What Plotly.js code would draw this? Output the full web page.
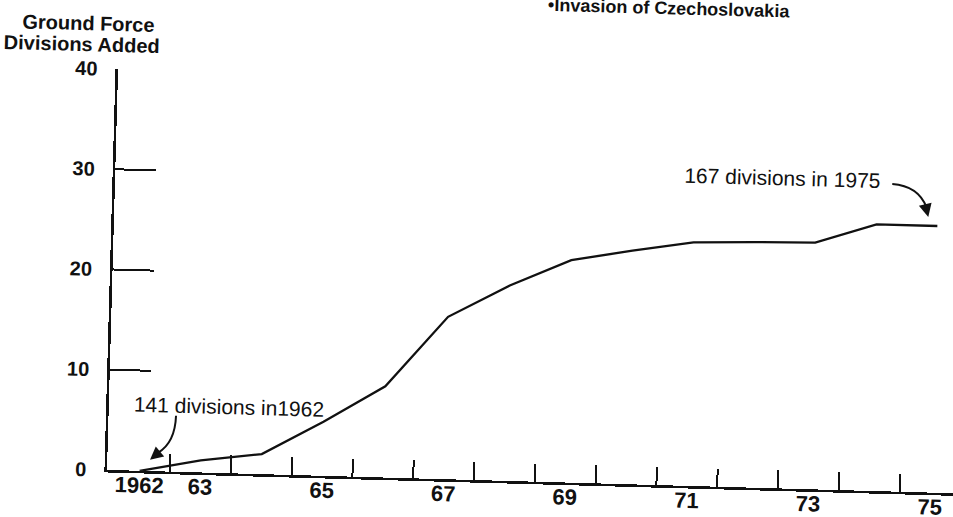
<!DOCTYPE html>
<html>
<head>
<meta charset="utf-8">
<script src="https://cdn.plot.ly/plotly-3.0.1.min.js"></script>
<style>
  html, body { margin: 0; padding: 0; background: #ffffff; overflow: hidden; width: 953px; height: 517px; position: relative; }
  #chart { position: absolute; left: -30px; top: -30px; width: 1040px; height: 577px;
           transform: rotate(1.58deg); transform-origin: 506.5px 288.5px; }
</style>
</head>
<body>
<div id="chart"></div>
<script>
// ---- data ----
const years = [1962, 1963, 1964, 1965, 1966, 1967, 1968, 1969, 1970, 1971, 1972, 1973, 1974, 1975];
const divisionsAdded = [0, 1.2, 2.0, 5.4, 9.1, 16.2, 19.5, 22.2, 23.3, 24.3, 24.5, 24.6, 26.6, 26.6];
const xTickVals = [1962, 1963, 1965, 1967, 1969, 1971, 1973, 1975];
const xTickText = ['1962', '63', '65', '67', '69', '71', '73', '75'];
const xMarkVals = [1962.5, 1963.5, 1964.5, 1965.5, 1966.5, 1967.5, 1968.5, 1969.5, 1970.5, 1971.5, 1972.5, 1973.5, 1974.5];
const yTickVals = [0, 10, 20, 30, 40];
const yTitleLines = ['Ground Force', 'Divisions Added'];
const eventNote = '\u2022Invasion of Czechoslovakia';
const startNote = '141 divisions in1962';
const endNote = '167 divisions in 1975';

// ---- geometry (picture pixels) ----
const OFF = 30;                       // extra room round the picture so rotated text is not clipped
const W = 1040, H = 577;
const ML = 113, MT = 79.1, PW = 846.7, PH = 401.1;   // plot area in the unrotated frame
const TH = 1.58 * Math.PI / 180, CX = 476.5, CY = 258.5;
// convert a position seen on the (rotated) picture to paper coordinates
function toPaper(px, py) {
  const dx = px - CX, dy = py - CY, c = Math.cos(TH), s = Math.sin(TH);
  const qx = CX + c * dx + s * dy, qy = CY - s * dx + c * dy;
  return [(qx - ML) / PW, (MT + PH - qy) / PH];
}
function curvePath(p0, p1, p2) {
  const a = toPaper(...p0), b = toPaper(...p1), d = toPaper(...p2);
  return `M ${a[0]},${a[1]} Q ${b[0]},${b[1]} ${d[0]},${d[1]}`;
}

const ink = '#111111';
const fam = 'Liberation Sans, Arial, Helvetica, sans-serif';

const trace = {
  x: years, y: divisionsAdded, type: 'scatter', mode: 'lines',
  line: { color: ink, width: 2.3, shape: 'linear' },
  cliponaxis: false, hoverinfo: 'skip', showlegend: false
};

function note(text, pos, opts) {
  const p = toPaper(...pos);
  return Object.assign({
    text: text, x: p[0], y: p[1], xref: 'paper', yref: 'paper',
    showarrow: false, font: { family: fam, size: 20, color: ink }
  }, opts);
}
function head(tip, ax, ay) {
  const p = toPaper(...tip);
  return {
    text: '', x: p[0], y: p[1], xref: 'paper', yref: 'paper',
    showarrow: true, arrowhead: 2, arrowsize: 1.3, arrowwidth: 2, arrowcolor: ink,
    ax: ax, ay: ay, standoff: 0
  };
}

const layout = {
  width: W, height: H,
  margin: { l: ML + OFF, r: W - ML - OFF - PW, t: MT + OFF, b: H - MT - OFF - PH, pad: 0 },
  paper_bgcolor: '#ffffff', plot_bgcolor: '#ffffff',
  font: { family: fam, color: ink },
  xaxis: {
    range: [1961.464, 1975.39], showgrid: false, zeroline: false,
    showline: true, linecolor: ink, linewidth: 2.6,
    tickmode: 'array', tickvals: xTickVals, ticktext: xTickText, ticks: '',
    ticklabelstandoff: -7,
    tickfont: { family: fam, size: 22, color: ink, weight: 'bold' },
    minor: { tickmode: 'array', tickvals: xMarkVals, ticks: 'inside', ticklen: 18, tickwidth: 2, tickcolor: ink, showgrid: false }
  },
  yaxis: {
    range: [0, 40], showgrid: false, zeroline: false,
    showline: true, linecolor: ink, linewidth: 2.6,
    tickmode: 'array', tickvals: yTickVals, ticks: 'inside', ticklen: 41, tickwidth: 2, tickcolor: ink,
    ticklabelstandoff: 14,
    tickfont: { family: fam, size: 20, color: ink, weight: 'bold' }
  },
  shapes: [
    { type: 'path', xref: 'paper', yref: 'paper', path: curvePath([892, 184], [918, 186], [926, 207]), line: { color: ink, width: 2 } },
    { type: 'path', xref: 'paper', yref: 'paper', path: curvePath([176, 416], [175, 443], [158, 453]), line: { color: ink, width: 2 } }
  ],
  annotations: [
    note(yTitleLines[0], [88, 23], { xanchor: 'center', yanchor: 'middle', font: { family: fam, size: 20, color: ink, weight: 'bold' } }),
    note(yTitleLines[1], [82, 44], { xanchor: 'center', yanchor: 'middle', font: { family: fam, size: 20, color: ink, weight: 'bold' } }),
    note(eventNote, [792, 12], { xanchor: 'right', yanchor: 'middle', font: { family: fam, size: 18, color: ink, weight: 'bold' } }),
    note(endNote, [682, 175], { xanchor: 'left', yanchor: 'middle', font: { family: fam, size: 21, color: ink } }),
    note(startNote, [132, 404], { xanchor: 'left', yanchor: 'middle', font: { family: fam, size: 21, color: ink } }),
    head([928, 217], -3, -11),
    head([150, 460], 9, -8)
  ]
};

Plotly.newPlot('chart', [trace], layout, { displayModeBar: false, staticPlot: true });
</script>
</body>
</html>
